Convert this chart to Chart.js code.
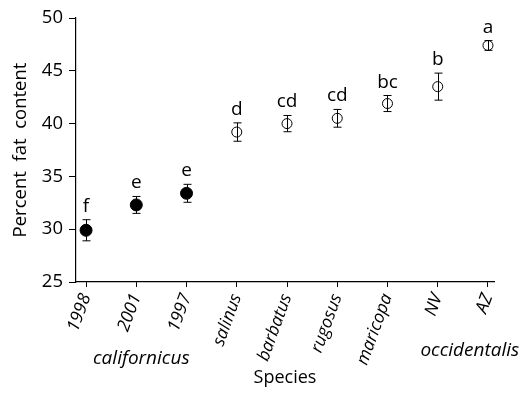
<!DOCTYPE html>
<html>
<head>
<meta charset="utf-8">
<script src="https://cdn.jsdelivr.net/npm/chart.js@4"></script>
<style>
  html, body { margin: 0; padding: 0; background: #fff; }
  #wrap { width: 526px; height: 393px; }
</style>
</head>
<body>
<div id="wrap"><canvas id="c"></canvas></div>
<script>
// values
var categories = ["1998", "2001", "1997", "salinus", "barbatus", "rugosus", "maricopa", "NV", "AZ"];
var fatMean = [29.9, 32.3, 33.4, 39.2, 40.0, 40.5, 41.9, 43.5, 47.4];
var fatErr = [1.0, 0.8, 0.85, 0.87, 0.77, 0.84, 0.76, 1.28, 0.46];
var letters = ["f", "e", "e", "d", "cd", "cd", "bc", "b", "a"];
var filled = [true, true, true, false, false, false, false, false, false];
var groupNames = ["californicus", "occidentalis"];
var yTicks = [25, 30, 35, 40, 45, 50];

var FONT = "'Open Sans', 'DejaVu Sans', sans-serif";

var closedPts = [], openPts = [];
for (var i = 0; i < categories.length; i++) {
    var p = { x: i + 1, y: fatMean[i] };
    if (filled[i]) closedPts.push(p); else openPts.push(p);
}

var errorBars = {
    id: "errorBars",
    beforeDatasetsDraw: function(chart) {
        var ctx = chart.ctx, xs = chart.scales.x, ys = chart.scales.y;
        ctx.save();
        ctx.strokeStyle = "#000";
        ctx.lineWidth = 1;
        for (var i = 0; i < categories.length; i++) {
            var px = Math.round(xs.getPixelForValue(i + 1)) + 0.5;
            var top = ys.getPixelForValue(fatMean[i] + fatErr[i]);
            var bot = ys.getPixelForValue(fatMean[i] - fatErr[i]);
            ctx.beginPath();
            ctx.moveTo(px, top); ctx.lineTo(px, bot);
            ctx.moveTo(px - 4, top); ctx.lineTo(px + 4, top);
            ctx.moveTo(px - 4, bot); ctx.lineTo(px + 4, bot);
            ctx.stroke();
        }
        ctx.restore();
    },
    afterDatasetsDraw: function(chart) {
        var ctx = chart.ctx, xs = chart.scales.x, ys = chart.scales.y;
        ctx.save();
        ctx.fillStyle = "#000";
        ctx.textAlign = "center";
        ctx.textBaseline = "alphabetic";
        ctx.font = "19px " + FONT;
        for (var i = 0; i < categories.length; i++) {
            var px = xs.getPixelForValue(i + 1);
            var top = ys.getPixelForValue(fatMean[i] + fatErr[i]);
            ctx.fillText(letters[i], px, top - 8);
        }
        // group names under the tick labels
        ctx.font = "italic 19px " + FONT;
        ctx.fillText(groupNames[0], xs.getPixelForValue(2) + 5, 364);
        ctx.fillText(groupNames[1], xs.getPixelForValue(8.5) + 7, 356);
        ctx.restore();
    }
};

var chart = new Chart(document.getElementById("c"), {
    type: "scatter",
    data: {
        datasets: [{
            data: closedPts,
            pointRadius: 6,
            pointHoverRadius: 6,
            pointBackgroundColor: "#000",
            pointBorderColor: "#000",
            pointBorderWidth: 1
        }, {
            data: openPts,
            pointRadius: 5,
            pointHoverRadius: 5,
            pointBackgroundColor: "rgba(0,0,0,0)",
            pointBorderColor: "#000",
            pointBorderWidth: 1
        }]
    },
    options: {
        responsive: true,
        maintainAspectRatio: false,
        animation: false,
        events: [],
        layout: { padding: { left: 0, top: 18, right: 32, bottom: 0 } },
        plugins: { legend: { display: false }, tooltip: { enabled: false } },
        scales: {
            x: {
                type: "linear",
                min: 0.8,
                max: 9.12,
                afterBuildTicks: function(scale) {
                    scale.ticks = categories.map(function(c, i) { return { value: i + 1 }; });
                },
                afterFit: function(scale) { scale.height = 111; },
                border: { display: true, color: "#000", width: 1.2 },
                grid: { drawOnChartArea: false, drawTicks: true, tickLength: 5, tickColor: "#000" },
                ticks: {
                    color: "#000",
                    font: { family: FONT, size: 17.5, style: "italic" },
                    maxRotation: 70,
                    minRotation: 70,
                    padding: 4,
                    autoSkip: false,
                    callback: function(v) { return categories[Math.round(v) - 1]; }
                },
                title: {
                    display: true,
                    text: "Species",
                    color: "#000",
                    font: { family: FONT, size: 18 },
                    padding: { top: 0, bottom: 4 }
                }
            },
            y: {
                min: 25,
                max: 50,
                afterBuildTicks: function(scale) {
                    scale.ticks = yTicks.map(function(v) { return { value: v }; });
                },
                afterFit: function(scale) { scale.width = 76; },
                border: { display: true, color: "#000", width: 1.2 },
                grid: { drawOnChartArea: false, drawTicks: true, tickLength: 7, tickColor: "#000" },
                ticks: {
                    color: "#000",
                    font: { family: FONT, size: 18.5 },
                    padding: 6
                },
                title: {
                    display: true,
                    text: "Percent  fat  content",
                    color: "#000",
                    font: { family: FONT, size: 18.5 },
                    padding: { top: 10, bottom: 0 }
                }
            }
        }
    },
    plugins: [errorBars]
});
</script>
</body>
</html>
